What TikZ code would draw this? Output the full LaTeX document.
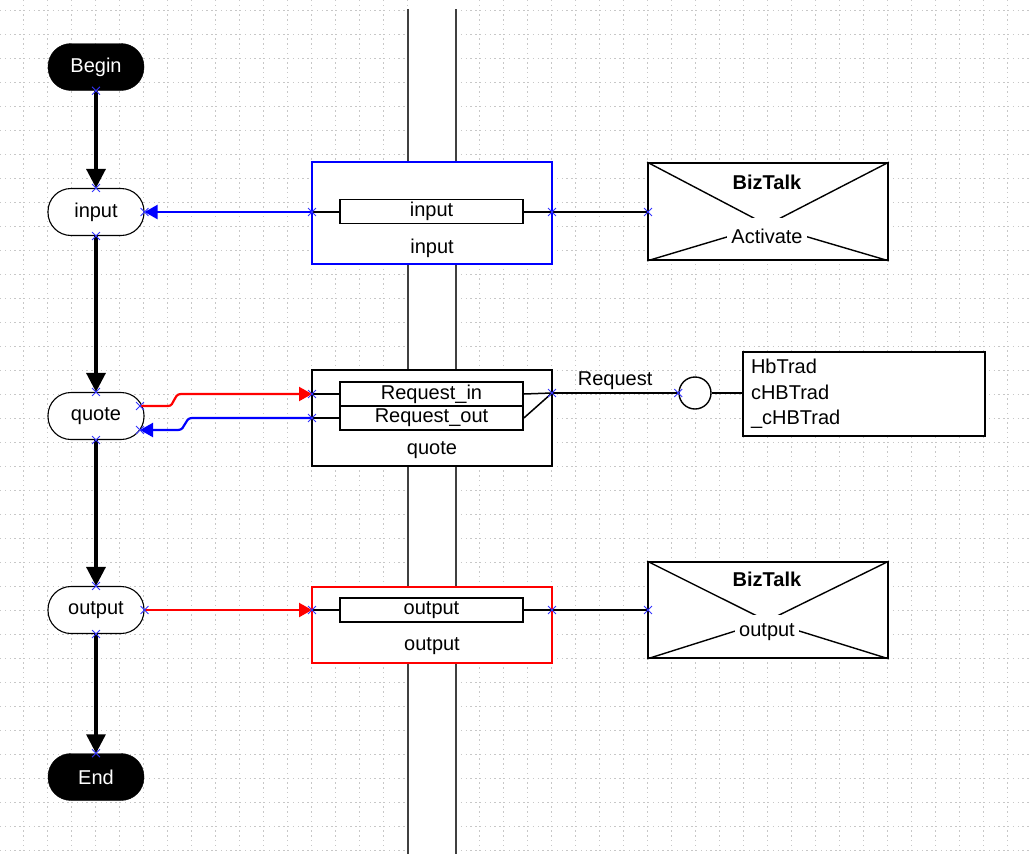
\documentclass[tikz,border=0pt]{standalone}
\usepackage{fontspec}
\setmainfont{Liberation Sans}
\usetikzlibrary{positioning}
\usetikzlibrary{arrows.meta}
\usetikzlibrary{shapes.misc}
\tikzset{x=1pt, y=-1pt,
    every node/.style={
        font=\fontsize{20}{24}\selectfont},
    gridline/.style={
        draw=black!22,
        line width=1pt,
        dash pattern=on 1.4pt off 3.4pt},
    laneline/.style={
        draw=black!75,
        line width=2.8pt},
    terminal/.style={
        draw=black,
        fill=black,
        text=white,
        rounded corners=23pt,
        minimum width=96pt,
        minimum height=47pt,
        inner sep=0pt},
    action/.style={
        draw=black,
        line width=1.1pt,
        fill=white,
        rounded corners=23pt,
        minimum width=96pt,
        minimum height=47pt,
        inner sep=0pt},
    shapebox/.style={
        draw=black,
        line width=1.7pt,
        fill=white,
        minimum width=240pt,
        inner sep=0pt},
    msg/.style={
        draw=black,
        line width=1.7pt,
        fill=white,
        minimum width=183pt,
        minimum height=24pt,
        inner sep=0pt},
    oplabel/.style={
        fill=white,
        inner xsep=4pt,
        inner ysep=0pt},
    portmark/.style={
        cross out,
        draw=blue!80!white,
        line width=0.9pt,
        minimum size=7pt,
        inner sep=0pt},
    flow/.style={
        draw=black,
        line width=3.2pt,
        -{Triangle[length=19pt,width=19pt]}},
    recv/.style={
        draw=blue,
        line width=2.2pt,
        -{Triangle[length=13pt,width=14pt]}},
    send/.style={
        draw=red,
        line width=2.2pt,
        -{Triangle[length=13pt,width=14pt]}},
    wire/.style={
        draw=black,
        line width=1.5pt},
    xline/.style={
        draw=black,
        line width=1.4pt}}

\begin{document}
\begin{tikzpicture}
    \useasboundingbox (0,0) rectangle (1030,854);
    % background grid
    \foreach \gx in {23,47,...,1031}
        \draw[gridline] (\gx,0) -- (\gx,854);
    \foreach \gy in {10,34,...,854}
        \draw[gridline] (0,\gy) -- (1030,\gy);
    % lane
    \fill[white] (408,0) rectangle (456,854);
    \draw[laneline] (408,9) -- (408,854);
    \draw[laneline] (456,9) -- (456,854);

    % orchestration shapes
    \node[terminal] (begin) at (96,67) {Begin};
    \node[action] (input) at (96,212) {input};
    \node[action] (quote) at (96,416) {quote};
    \node[action] (output) at (96,610) {output};
    \node[terminal] (end) at (96,777) {End};

    % ports
    \node[shapebox, draw=blue, minimum height=102pt] (inport) at (432,213) {};
    \node[msg] (inmsg) at (431.5,211.5) {input};
    \node (inlabel) at (432,248) {input};

    \node[shapebox, minimum height=96pt] (quoteport) at (432,418) {};
    \node[msg] (reqin) at (431.5,394) {Request\_in};
    \node[msg] (reqout) at (431.5,418) {Request\_out};
    \node (quotelabel) at (432,450) {quote};

    \node[shapebox, draw=red, minimum height=76pt] (outport) at (432,625) {};
    \node[msg] (outmsg) at (431.5,610) {output};
    \node (outlabel) at (432,646) {output};

    % bindings
    \node[shapebox, minimum height=97pt] (biz1) at (768,211.5) {};
    \node[shapebox, minimum height=96pt] (biz2) at (768,610) {};
    \node[draw, line width=1.4pt, circle, fill=white, minimum size=32pt, inner sep=0pt] (reqif) at (695,393) {};
    \node[draw, line width=1.7pt, fill=white, minimum width=242pt, minimum height=84pt,
        inner sep=0pt, align=left, text width=226pt, font=\fontsize{20}{25.5}\selectfont]
        (reqtypes) at (864,394) {HbTrad\\cHBTrad\\\_cHBTrad};

    \coordinate (x1) at (767,225);
    \draw[xline] (biz1.north west) -- (x1) -- (biz1.north east);
    \draw[xline] (biz1.south west) -- (x1) -- (biz1.south east);
    \node[font=\fontsize{20}{24}\selectfont\bfseries] (biz1title) at (767,182) {BizTalk};
    \node[oplabel, minimum height=37pt] (biz1op) at (767,236.5) {Activate};

    \coordinate (x2) at (767,621);
    \draw[xline] (biz2.north west) -- (x2) -- (biz2.north east);
    \draw[xline] (biz2.south west) -- (x2) -- (biz2.south east);
    \node[font=\fontsize{20}{24}\selectfont\bfseries] (biz2title) at (767,579) {BizTalk};
    \node[oplabel, minimum height=34pt] (biz2op) at (767,632) {output};

    % connection points
    \coordinate (pb) at (begin.south);
    \coordinate (pit) at (input.north);
    \coordinate (pir) at (input.east);
    \coordinate (pib) at (input.south);
    \coordinate (pqt) at (quote.north);
    \coordinate (pqa) at (140,406);
    \coordinate (pqb) at (140,430);
    \coordinate (pqs) at (quote.south);
    \coordinate (pot) at (output.north);
    \coordinate (por) at (output.east);
    \coordinate (pos) at (output.south);
    \coordinate (pe) at (end.north);
    \coordinate (inl) at (312,212);
    \coordinate (inr) at (552,212);
    \coordinate (ql1) at (312,394);
    \coordinate (ql2) at (312,418);
    \coordinate (qr) at (552,393);
    \coordinate (outl) at (312,610);
    \coordinate (outr) at (552,610);
    \coordinate (bz1) at (648,212);
    \coordinate (bz2) at (648,610);
    \coordinate (rif) at (reqif.west);

    % port wiring
    \draw[wire] (inl) -- (inl -| inmsg.west);
    \draw[wire] (inr -| inmsg.east) -- (inr);
    \draw[wire] (ql1) -- (reqin.west);
    \draw[wire] (ql2) -- (reqout.west);
    \draw[wire] (reqin.east) -- (qr);
    \draw[wire] (reqout.east) -- (qr);
    \draw[wire] (outl) -- (outmsg.west);
    \draw[wire] (outmsg.east) -- (outr);
    \draw[wire] (inr) -- (bz1);
    \draw[wire] (outr) -- (bz2);
    \draw[wire] (qr) -- node[above=-1pt] {Request} (rif);
    \draw[wire] (reqif.east) -- (reqif.east -| reqtypes.west);

    % control flow
    \draw[flow] (pb) -- (pit);
    \draw[flow] (pib) -- (pqt);
    \draw[flow] (pqs) -- (pot);
    \draw[flow] (pos) -- (pe);

    % message flow
    \draw[recv] (inl) -- (pir);
    \draw[send] (pqa) -- (168,406) .. controls (175,406) and (173,394) .. (181,394) -- (ql1);
    \draw[recv] (ql2) -- (192,418) .. controls (184,418) and (186,430) .. (178,430) -- (pqb);
    \draw[send] (por) -- (outl);

    \foreach \p in {pb,pit,pir,pib,pqt,pqa,pqb,pqs,pot,por,pos,pe,inl,inr,ql1,ql2,qr,outl,outr,bz1,bz2,rif}
        \node[portmark] at (\p) {};
\end{tikzpicture}
\end{document}
